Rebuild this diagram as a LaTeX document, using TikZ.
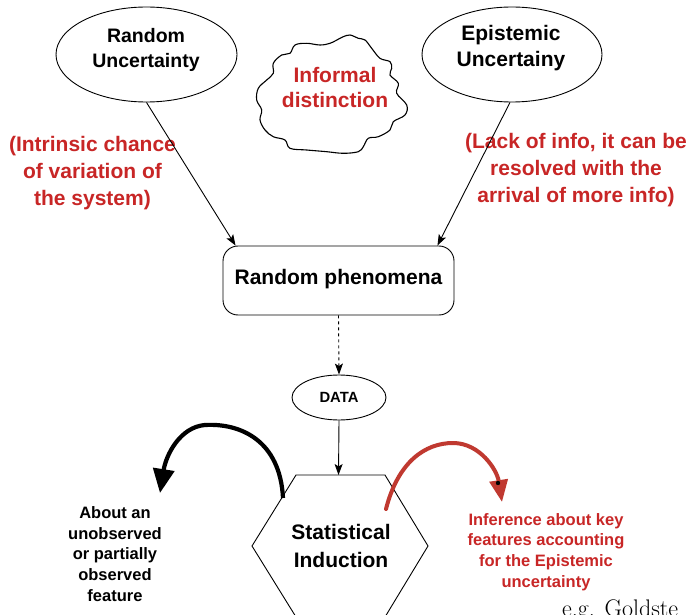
\documentclass[tikz,border=0pt]{standalone}
\usepackage{fontspec}
\newfontfamily\hv{Liberation Sans}
\usetikzlibrary{shapes.geometric,arrows.meta,calc}
\definecolor{redtxt}{RGB}{200,38,38}
\definecolor{redline}{RGB}{192,57,48}
\begin{document}
\begin{tikzpicture}[x=1pt,y=-1pt,
  lab/.style={align=center, inner sep=0pt},
  big/.style={font=\hv\bfseries\fontsize{21}{27}\selectfont},
  small/.style={font=\hv\bfseries\fontsize{16.5}{20.7}\selectfont},
  ell/.style={draw, ellipse, line width=0.9pt, inner sep=0pt},
  thinarrow/.style={line width=0.9pt, -{Stealth[length=11pt,width=8pt,inset=2.5pt]}},
  shape line/.style={line width=0.9pt},
]
\useasboundingbox (0,0) rectangle (691,615);
\clip (0,0) rectangle (691,615);
\fill[white] (0,0) rectangle (691,615);

% top ellipses
\node[ell, minimum width=181pt, minimum height=95pt] (ru) at (146.5,54.5) {};
\node[lab, font=\hv\bfseries\fontsize{19.5}{25}\selectfont] (rut) at (146,49.5) {Random\\Uncertainty};
\node[ell, minimum width=180pt, minimum height=95pt] (eu) at (512,54.5) {};
\node[lab, big, font=\hv\bfseries\fontsize{21}{26}\selectfont] (eut) at (511,48) {Epistemic\\Uncertainy};

% cloud
\draw[line width=1.1pt] plot[smooth cycle, tension=0.6] coordinates {
(343.3,36.7) (350,35) (358.3,38.3) (365,40) (371.7,48.3) (380,58.3) (390,61.7)
(391.7,68.3) (390,75) (398.3,83.3) (396.7,93.3) (406.7,105) (405,115) (393.3,121.7)
(390,130) (378.3,136.7) (368.3,138.3) (363.3,146.7) (358.3,151.7) (343.3,153.3)
(326.7,151.7) (306.7,150) (290,148.3) (285,140) (273.3,136.7) (265,130) (260,120)
(261.7,110) (256.7,100) (258.3,88.3) (266.7,80) (273.3,73.3) (273.3,63.3) (281.7,55)
(290,53.3) (295,45) (306.7,43.3) (320,45) (330,43.3) (340,38.3)};
\node[lab, big, text=redtxt, font=\hv\bfseries\fontsize{21}{25}\selectfont] (cloudt) at (335,87.5) {Informal\\distinction};

% red side texts
\node[lab, big, text=redtxt] (lt) at (92.5,173) {(Intrinsic chance\\of variation of\\the system)};
\node[lab, big, text=redtxt] (rt) at (576,170) {(Lack of info, it can be\\resolved with the\\arrival of more info)};

% random phenomena box
\node[draw, shape line, rounded corners=15pt, minimum width=231pt, minimum height=69pt, inner sep=0pt] (rp) at (338.5,280.5) {};
\node[lab, big] (rpt) at (338.5,279) {Random phenomena};

% DATA
\node[ell, minimum width=94pt, minimum height=45pt] (data) at (339,397.5) {};
\node[lab, font=\hv\bfseries\fontsize{14.8}{18}\selectfont] (datat) at (339,397.5) {DATA};

% hexagon
\draw[shape line] (296,475) -- (385,475) -- (428,546) -- (385,617) -- (296,617) -- (252,546) -- cycle;
\coordinate (hexTop) at (338.5,475);
\node[lab, big, font=\hv\bfseries\fontsize{21}{27.5}\selectfont] (stat) at (341,546) {Statistical\\Induction};

% bottom texts
\node[lab, small] (bl) at (115,554) {About an\\unobserved\\or partially\\observed\\feature};
\node[lab, small, text=redtxt] (br) at (546,552) {Inference about key\\features accounting\\for the Epistemic\\uncertainty};

\node[anchor=base west, inner sep=0pt, font=\fontsize{24}{28}\selectfont] (eg) at (562,616) {e.g. Goldste};

% connectors
\draw[thinarrow] (ru.south) -- ($(rp.north west)+(13,0)$);
\draw[thinarrow] ($(eu.south)+(-2,0)$) -- ($(rp.north east)+(-17,0)$);
\draw[thinarrow, dash pattern=on 3pt off 3pt] (rp.south) -- (data.north);
\draw[thinarrow] (data.south) -- (hexTop);

\coordinate (bs) at (283,498);
\coordinate (bt) at (205,425);
\coordinate (be) at (160,493);
\draw[line width=4.2pt, -{Triangle[length=24pt,width=21pt]}] (bs) .. controls (280,440) and (240,423) .. (bt) .. controls (180,427) and (166,455) .. (be);

\coordinate (rs) at (386,509);
\coordinate (rt2) at (453,443);
\coordinate (re) at (502,502);
\draw[line width=4pt, redline, line cap=round, -{Triangle[length=22pt,width=18pt]}] (rs) .. controls (398,462) and (425,443) .. (rt2) .. controls (480,443) and (497,470) .. (re);
\fill (498,483) circle (2.2pt);
\end{tikzpicture}
\end{document}
